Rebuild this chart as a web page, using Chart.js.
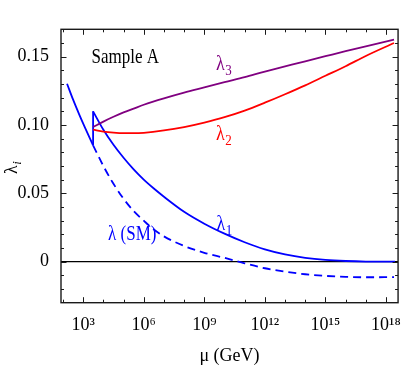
<!DOCTYPE html>
<html><head><meta charset="utf-8">
<script src="https://cdn.jsdelivr.net/npm/chart.js@4.4.0/dist/chart.umd.min.js"></script>
<style>html,body{margin:0;padding:0;background:#fff;}canvas{display:block;}</style>
</head><body>
<canvas id="c" width="405" height="371"></canvas>
<script>
// ---- data (x values are log10 of mu in GeV) ----
const smLowLogMu   = [2.2, 2.5, 2.8, 3.1, 3.49];
const smLowLambda  = [0.1302, 0.1185, 0.1078, 0.0977, 0.0851];

const jumpLogMu    = [3.49, 3.49];
const jumpLambda   = [0.0851, 0.110];

const lambda1LogMu = [3.49, 4, 4.5, 5, 5.5, 6, 6.5, 7, 8, 9, 10, 11, 12, 13, 14, 15, 16, 17, 18.45];
const lambda1      = [0.110, 0.0965, 0.0855, 0.076, 0.0675, 0.060, 0.0535, 0.0475, 0.0365, 0.0278, 0.0205, 0.0142, 0.0090, 0.0053, 0.0028, 0.0013, 0.0005, 0.0001, 0.0];

const smHighLogMu  = [3.49, 4, 4.5, 5, 5.5, 6, 6.5, 7, 8, 9, 10, 11, 12, 13, 14, 15, 16, 17, 18.4];
const smHighLambda = [0.0851, 0.070, 0.057, 0.046, 0.037, 0.030, 0.0235, 0.0185, 0.0115, 0.0065, 0.0028, -0.0012, -0.0048, -0.0073, -0.0092, -0.0104, -0.0111, -0.0114, -0.0113];

const lambda2LogMu = [3.49, 4, 4.5, 5, 5.5, 6, 7, 8, 9, 10, 11, 12, 13, 14, 15, 16, 17, 18.4];
const lambda2      = [0.0966, 0.0952, 0.0944, 0.0940, 0.0940, 0.0943, 0.0960, 0.0985, 0.1018, 0.1057, 0.1105, 0.1163, 0.1225, 0.1290, 0.1360, 0.1430, 0.1505, 0.1600];

const lambda3LogMu = [3.49, 4, 4.5, 5, 5.5, 6, 7, 8, 9, 10, 11, 12, 13, 14, 15, 16, 17, 18.4];
const lambda3      = [0.0985, 0.1025, 0.1060, 0.1092, 0.1120, 0.1148, 0.1195, 0.1237, 0.1275, 0.1313, 0.1350, 0.1390, 0.1428, 0.1466, 0.1503, 0.1540, 0.1575, 0.1625];

const zeroLineLogMu = [1.9, 18.6];
const zeroLine      = [0, 0];

// ---- axes / ticks ----
const xMinExp = 1.9, xMaxExp = 18.6;
const xTickExp  = [2,3,4,5,6,7,8,9,10,11,12,13,14,15,16,17,18];
const xLabelExp = [3,6,9,12,15,18];
const yMin = -0.03, yMax = 0.17;
const yLabelValues = [0, 0.05, 0.10, 0.15];
const yMinorValues = [-0.02,-0.01,0.01,0.02,0.03,0.04,0.06,0.07,0.08,0.09,0.11,0.12,0.13,0.14,0.16];

const SUP = {'0':'⁰','1':'¹','2':'²','3':'³','4':'⁴','5':'⁵','6':'⁶','7':'⁷','8':'⁸','9':'⁹'};
const sup = n => String(n).split('').map(c=>SUP[c]).join('');
const pts = (lx, ly) => lx.map((e,i)=>({x:Math.pow(10,e), y:ly[i]}));

const BLUE='#0000ff', RED='#ff0000', PURPLE='#800080';
const FONT='"Liberation Serif", "Times New Roman", serif';

function subLabel(ctx, x, y, main, sub, color, size, subItalic, stretch){
  ctx.save();
  ctx.translate(x, y);
  ctx.scale(1, stretch||1);
  ctx.fillStyle=color; ctx.textAlign='left'; ctx.textBaseline='alphabetic';
  ctx.font = size+'px '+FONT;
  ctx.fillText(main, 0, 0);
  if(sub){
    const w = ctx.measureText(main).width;
    ctx.font = (subItalic?'italic ':'')+Math.round(size*0.72)+'px '+FONT;
    ctx.fillText(sub, w+0.5, 3.5);
  }
  ctx.restore();
}

const decor = {
  id:'decor',
  afterDatasetsDraw(chart){
    const {ctx, chartArea:a, scales:{x,y}} = chart;
    ctx.save();
    ctx.strokeStyle='#1a1a1a';
    ctx.lineWidth=1;
    ctx.beginPath();
    xTickExp.forEach(e=>{
      const px=Math.round(x.getPixelForValue(Math.pow(10,e)))+0.5;
      const L = xLabelExp.includes(e)?5.5:3;
      ctx.moveTo(px,a.bottom); ctx.lineTo(px,a.bottom-L);
      ctx.moveTo(px,a.top); ctx.lineTo(px,a.top+L);
    });
    const yt = (v,L)=>{
      const py=Math.round(y.getPixelForValue(v))+0.5;
      ctx.moveTo(a.left,py); ctx.lineTo(a.left+L,py);
      ctx.moveTo(a.right,py); ctx.lineTo(a.right-L,py);
    };
    yLabelValues.forEach(v=>yt(v,5.5));
    yMinorValues.forEach(v=>yt(v,3));
    ctx.stroke();
    ctx.lineWidth=1.4;
    ctx.strokeRect(a.left, a.top, a.right-a.left, a.bottom-a.top);
    ctx.restore();
  },
  afterDraw(chart){
    const {ctx, scales:{x,y}} = chart;
    const X = e=>x.getPixelForValue(Math.pow(10,e)), Y = v=>y.getPixelForValue(v);
    const S = 1.2;
    ctx.save();
    subLabel(ctx, X(3.41), Y(0.1451), 'Sample A', null, '#000', 17, false, S);
    subLabel(ctx, X(9.58), Y(0.140), 'λ', '3', PURPLE, 18, false, S);
    subLabel(ctx, X(9.58), Y(0.0888), 'λ', '2', RED, 18, false, S);
    subLabel(ctx, X(9.61), Y(0.0229), 'λ', '1', BLUE, 18, false, S);
    subLabel(ctx, X(4.23), Y(0.0156), 'λ (SM)', null, BLUE, 17, false, S);
    // y axis title (rotated)
    ctx.translate(17, 174);
    ctx.rotate(-Math.PI/2);
    subLabel(ctx, 0, 0, 'λ', 'i', '#000', 18, true, 1);
    ctx.restore();
  }
};

const ds = (data, color, extra) => Object.assign({data, borderColor:color, backgroundColor:color, borderWidth:1.8, pointRadius:0, fill:false, cubicInterpolationMode:'monotone'}, extra||{});

new Chart(document.getElementById('c'), {
  type:'line',
  data:{datasets:[
    ds(pts(lambda3LogMu, lambda3), PURPLE),
    ds(pts(lambda2LogMu, lambda2), RED),
    ds(pts(lambda1LogMu, lambda1), BLUE),
    ds(pts(jumpLogMu, jumpLambda), BLUE, {cubicInterpolationMode:'default', tension:0}),
    ds(pts(smLowLogMu, smLowLambda), BLUE),
    ds(pts(smHighLogMu, smHighLambda), BLUE, {borderDash:[8,5]}),
    ds(pts(zeroLineLogMu, zeroLine), '#000', {borderWidth:1.3, tension:0, cubicInterpolationMode:'default'})
  ]},
  options:{
    responsive:false, animation:false, devicePixelRatio:1,
    layout:{padding:{left:0, top:29.3, right:5.7, bottom:0}},
    plugins:{legend:{display:false}, tooltip:{enabled:false}},
    scales:{
      x:{type:'logarithmic', bounds:'data', min:Math.pow(10,xMinExp), max:Math.pow(10,xMaxExp),
        grid:{display:false}, border:{display:false},
        afterBuildTicks:s=>{ s.ticks = xLabelExp.map(e=>({value:Math.pow(10,e)})); },
        afterFit:s=>{ s.height = 68.3; },
        ticks:{autoSkip:false, maxRotation:0, minRotation:0, padding:4, color:'#000',
          font:{family:FONT, size:18},
          callback:v=>'10'+sup(Math.round(Math.log10(v)))},
        title:{display:true, text:'μ (GeV)', color:'#000', font:{family:FONT, size:18}, padding:{top:0,bottom:4}}
      },
      y:{type:'linear', bounds:'data', min:yMin, max:yMax,
        grid:{display:false}, border:{display:false},
        afterBuildTicks:s=>{ s.ticks = yLabelValues.map(v=>({value:v})); },
        afterFit:s=>{ s.width = 61; },
        ticks:{autoSkip:false, padding:4, color:'#000', font:{family:FONT, size:18},
          callback:v=>v===0?'0':v.toFixed(2)}
      }
    }
  },
  plugins:[decor]
});
</script>
</body></html>
